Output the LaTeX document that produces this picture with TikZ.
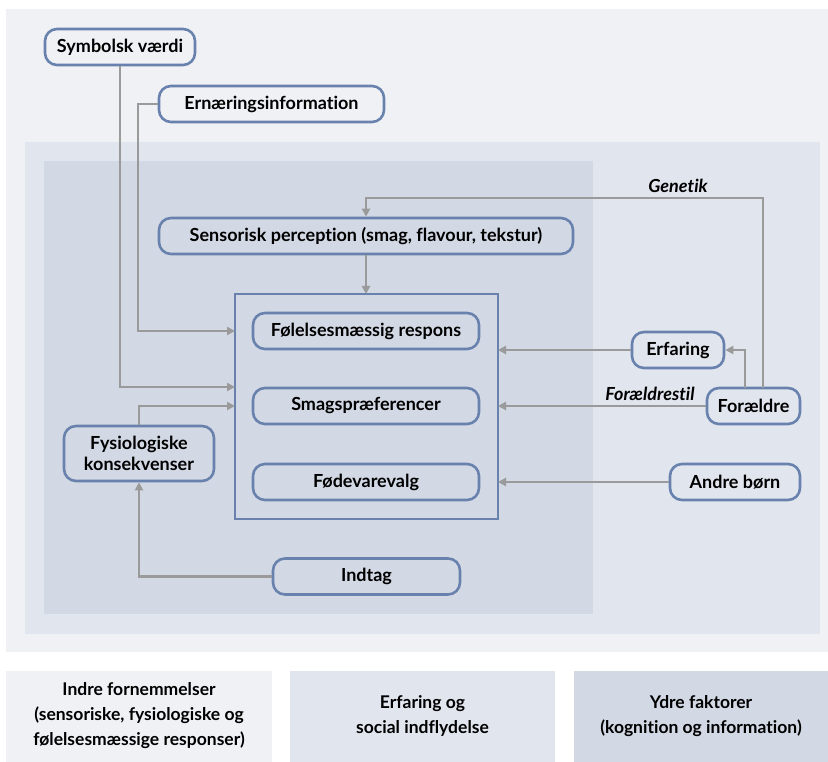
\documentclass[tikz,border=0pt]{standalone}
\usepackage{fontspec}
\setmainfont{Lato}[Ligatures=NoCommon]
\usetikzlibrary{arrows.meta}
\definecolor{panelA}{HTML}{EFF1F5}
\definecolor{panelB}{HTML}{E1E5EE}
\definecolor{panelC}{HTML}{D2D8E4}
\definecolor{edgeblue}{HTML}{6882AD}
\definecolor{wire}{HTML}{9A9A9A}
\tikzset{
  pill/.style={draw=edgeblue, line width=2.6pt, rounded corners=12pt, minimum height=36pt,
    inner sep=0pt, align=center, font=\bfseries\fontsize{18}{21}\selectfont},
  feed/.style={draw=wire, line width=2.8pt, -{Triangle[length=8pt,width=8pt]}},
  tag/.style={font=\bfseries\itshape\fontsize{18}{21}\selectfont},
  legend/.style={inner sep=0pt, align=center, font=\bfseries\fontsize{17.5}{25}\selectfont}
}
\begin{document}
\begin{tikzpicture}[x=1pt,y=-1pt]
			%%%%% PANELS %%%%%
			\useasboundingbox (0,0) rectangle (828,762);
			\fill[white] (0,0) rectangle (828,762);
			\fill[panelA] (6,9) rectangle (828,652);
			\fill[panelB] (25,142) rectangle (820,634);
			\fill[panelC] (44,161) rectangle (593,614);
			
			%%%%% NODES %%%%%
			\node[pill, minimum width=150pt] (symbol) at (120,47) {Symbolsk værdi};
			\node[pill, minimum width=225pt] (info) at (271.5,104) {Ernæringsinformation};
			\node[pill, minimum width=414pt] (sens) at (366,236) {Sensorisk perception (smag, flavour, tekstur)};
			
			\draw[draw=edgeblue, line width=2.6pt] (235,294) rectangle (498,519);
			\coordinate (core) at (366,294);
			\node[pill, minimum width=226pt] (emo) at (366,331) {Følelsesmæssig respons};
			\node[pill, minimum width=226pt] (taste) at (366,406) {Smagspræferencer};
			\node[pill, minimum width=226pt] (choice) at (366,482) {Fødevarevalg};
			
			\node[pill, minimum width=150pt, minimum height=55pt] (phys) at (139,453.5) {Fysiologiske\\[0pt]konsekvenser};
			\node[pill, minimum width=187pt] (intake) at (366.5,576.5) {Indtag};
			
			\node[pill, minimum width=92pt] (exp) at (678,350) {Erfaring};
			\node[pill, minimum width=93pt] (parents) at (753.5,406) {Forældre};
			\node[pill, minimum width=130pt] (kids) at (735,482) {Andre børn};
			
			%%%%% CONNECTORS %%%%%
			\coordinate (boxR1) at (498,350);
			\coordinate (boxR2) at (498,406);
			\coordinate (boxR3) at (498,482);
			\coordinate (boxL1) at (235,331);
			\coordinate (boxL2) at (235,387);
			\coordinate (boxL3) at (235,406);
			
			\draw[feed] (sens.south) -- (core);
			\draw[feed] (info.west) -- (138,104) -- (138,331) -- (boxL1);
			\draw[feed] (symbol.south) -- (120,387) -- (boxL2);
			\draw[feed] (phys.north) -- (139,406) -- (boxL3);
			\draw[feed] (intake.west) -- (139,576.5) -- (phys.south);
			
			\draw[feed] (exp.west) -- (boxR1);
			\draw[feed] (parents.west) -- (boxR2);
			\draw[feed] (kids.west) -- (boxR3);
			\draw[feed] (745,388) -- (745,350) -- (exp.east);
			\draw[feed] (763,388) -- (763,198) -- (366,198) -- (sens.north);
			
			\node[tag] (gen) at (678,186) {Genetik};
			\node[tag] (style) at (650,394) {Forældrestil};
			
			%%%%% LEGEND %%%%%
			\fill[panelA] (6,671) rectangle (272,762);
			\fill[panelB] (290,671) rectangle (555,762);
			\fill[panelC] (574,671) rectangle (828,762);
			\node[legend] (inner) at (139,716) {Indre fornemmelser\\(sensoriske, fysiologiske og\\følelsesmæssige responser)};
			\node[legend] (social) at (422.5,716) {Erfaring og\\social indflydelse};
			\node[legend] (outer) at (701,716) {Ydre faktorer\\(kognition og information)};
			
			%%%%% END %%%%%
\end{tikzpicture}
\end{document}
